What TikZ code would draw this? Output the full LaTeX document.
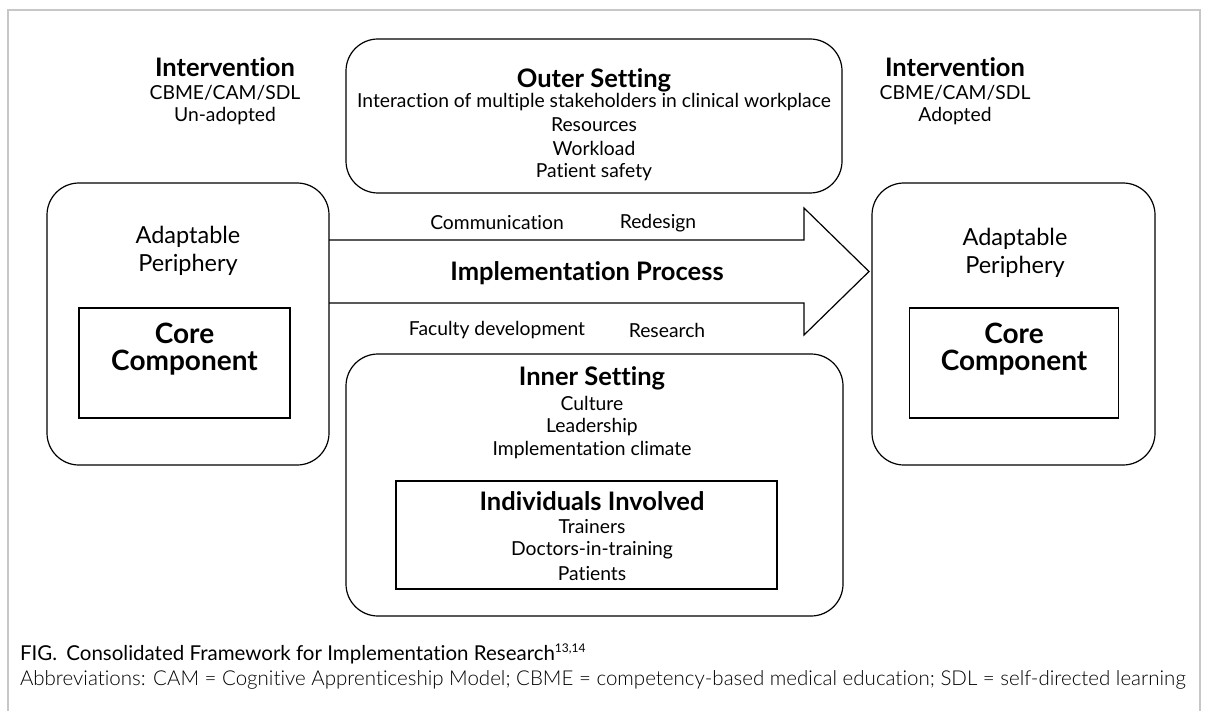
\documentclass[tikz,border=0pt]{standalone}
\usepackage{fontspec}
\setmainfont{Lato}[Ligatures={NoCommon}]
\newfontfamily\lightfont{Lato Light}[Ligatures={NoCommon}]
\begin{document}
\begin{tikzpicture}[x=1pt,y=-1pt,
  every node/.style={inner sep=0pt, outer sep=0pt},
  line/.style={draw=black, line width=1.2pt},
  frameline/.style={draw=black!22, line width=1.2pt},
  roundbox/.style={line, rounded corners=32pt},
  plainbox/.style={line},
  body/.style={font=\fontsize{19.3}{24}\selectfont, align=center},
  big/.style={font=\fontsize{23.5}{29}\selectfont, align=center},
  title/.style={font=\bfseries\fontsize{25.5}{30}\selectfont, align=center},
  coretitle/.style={font=\bfseries\fontsize{28}{32}\selectfont, align=center},
  caption/.style={font=\fontsize{20.5}{24}\selectfont, anchor=west},
  lightcaption/.style={font=\lightfont\fontsize{20.5}{24}\selectfont, anchor=west}
]
\useasboundingbox (0,0) rectangle (1206,711);

% light frame around the figure, open at the bottom
\draw[frameline] (8,711) -- (8,10) -- (1200,10) -- (1200,711);

% intervention labels
\node[title] (intL) at (225,67) {Intervention};
\node[body]  (intLa) at (225,93) {CBME/CAM/SDL};
\node[body]  (intLb) at (225,116) {Un-adopted};
\node[title] (intR) at (955,67) {Intervention};
\node[body]  (intRa) at (955,93) {CBME/CAM/SDL};
\node[body]  (intRb) at (955,116) {Adopted};

% outer setting
\node[roundbox, minimum width=496pt, minimum height=154pt] (outer) at (594,116) {};
\node[title] (outerT) at (594,80) {Outer Setting};
\node[body] (outer1) at (594,102) {Interaction of multiple stakeholders in clinical workplace};
\node[body] (outer2) at (594,125) {Resources};
\node[body] (outer3) at (594,148) {Workload};
\node[body] (outer4) at (594,172) {Patient safety};

% un-adopted intervention
\node[roundbox, minimum width=282pt, minimum height=282pt] (left) at (188,324) {};
\node[big] (leftA) at (188,237) {Adaptable};
\node[big] (leftB) at (188,265) {Periphery};
\node[plainbox, minimum width=211pt, minimum height=110pt] (coreL) at (184.5,363) {};
\node[coretitle] (coreLa) at (184.5,333) {Core};
\node[coretitle] (coreLb) at (184.5,363) {Component};

% adopted intervention
\node[roundbox, minimum width=283pt, minimum height=282pt] (right) at (1013.5,324) {};
\node[big] (rightA) at (1015,239) {Adaptable};
\node[big] (rightB) at (1015,267) {Periphery};
\node[plainbox, minimum width=209pt, minimum height=110pt] (coreR) at (1014,363) {};
\node[coretitle] (coreRa) at (1014,333) {Core};
\node[coretitle] (coreRb) at (1014,363) {Component};

% implementation process arrow, from the un-adopted to the adopted side
\coordinate (shaftTop) at (804,240);
\coordinate (shaftBot) at (804,303);
\coordinate (headTop) at (804,208);
\coordinate (headBot) at (804,335);
\coordinate (tip) at ([xshift=-3pt]right.west |- 0,271.5);
\draw[line, line join=miter]
  (left.east |- shaftTop) -- (shaftTop) -- (headTop) -- (tip)
  -- (headBot) -- (shaftBot) -- (left.east |- shaftBot);
\node[title] (process) at (587,273) {Implementation Process};
\node[body] (comm) at (497,223) {Communication};
\node[body] (redesign) at (658,223) {Redesign};
\node[body] (faculty) at (497,330) {Faculty development};
\node[body] (research) at (667,330) {Research};

% inner setting
\node[roundbox, minimum width=497pt, minimum height=262pt] (inner) at (594.5,485) {};
\node[title] (innerT) at (592,378) {Inner Setting};
\node[body] (inner1) at (592,403) {Culture};
\node[body] (inner2) at (592,427) {Leadership};
\node[body] (inner3) at (592,450) {Implementation climate};
\node[plainbox, minimum width=381pt, minimum height=108pt] (indiv) at (586.5,535) {};
\node[title] (indivT) at (592,501) {Individuals Involved};
\node[body] (indiv1) at (592,527) {Trainers};
\node[body] (indiv2) at (592,550) {Doctors-in-training};
\node[body] (indiv3) at (592,574) {Patients};

% caption
\node[caption] (cap1) at (20,654) {FIG.\hspace{0.45em}Consolidated Framework for Implementation Research\textsuperscript{\fontsize{12}{12}\selectfont 13,14}};
\node[lightcaption] (cap2) at (20,680) {Abbreviations: CAM = Cognitive Apprenticeship Model; CBME = competency-based medical education; SDL = self-directed learning};
\end{tikzpicture}
\end{document}
